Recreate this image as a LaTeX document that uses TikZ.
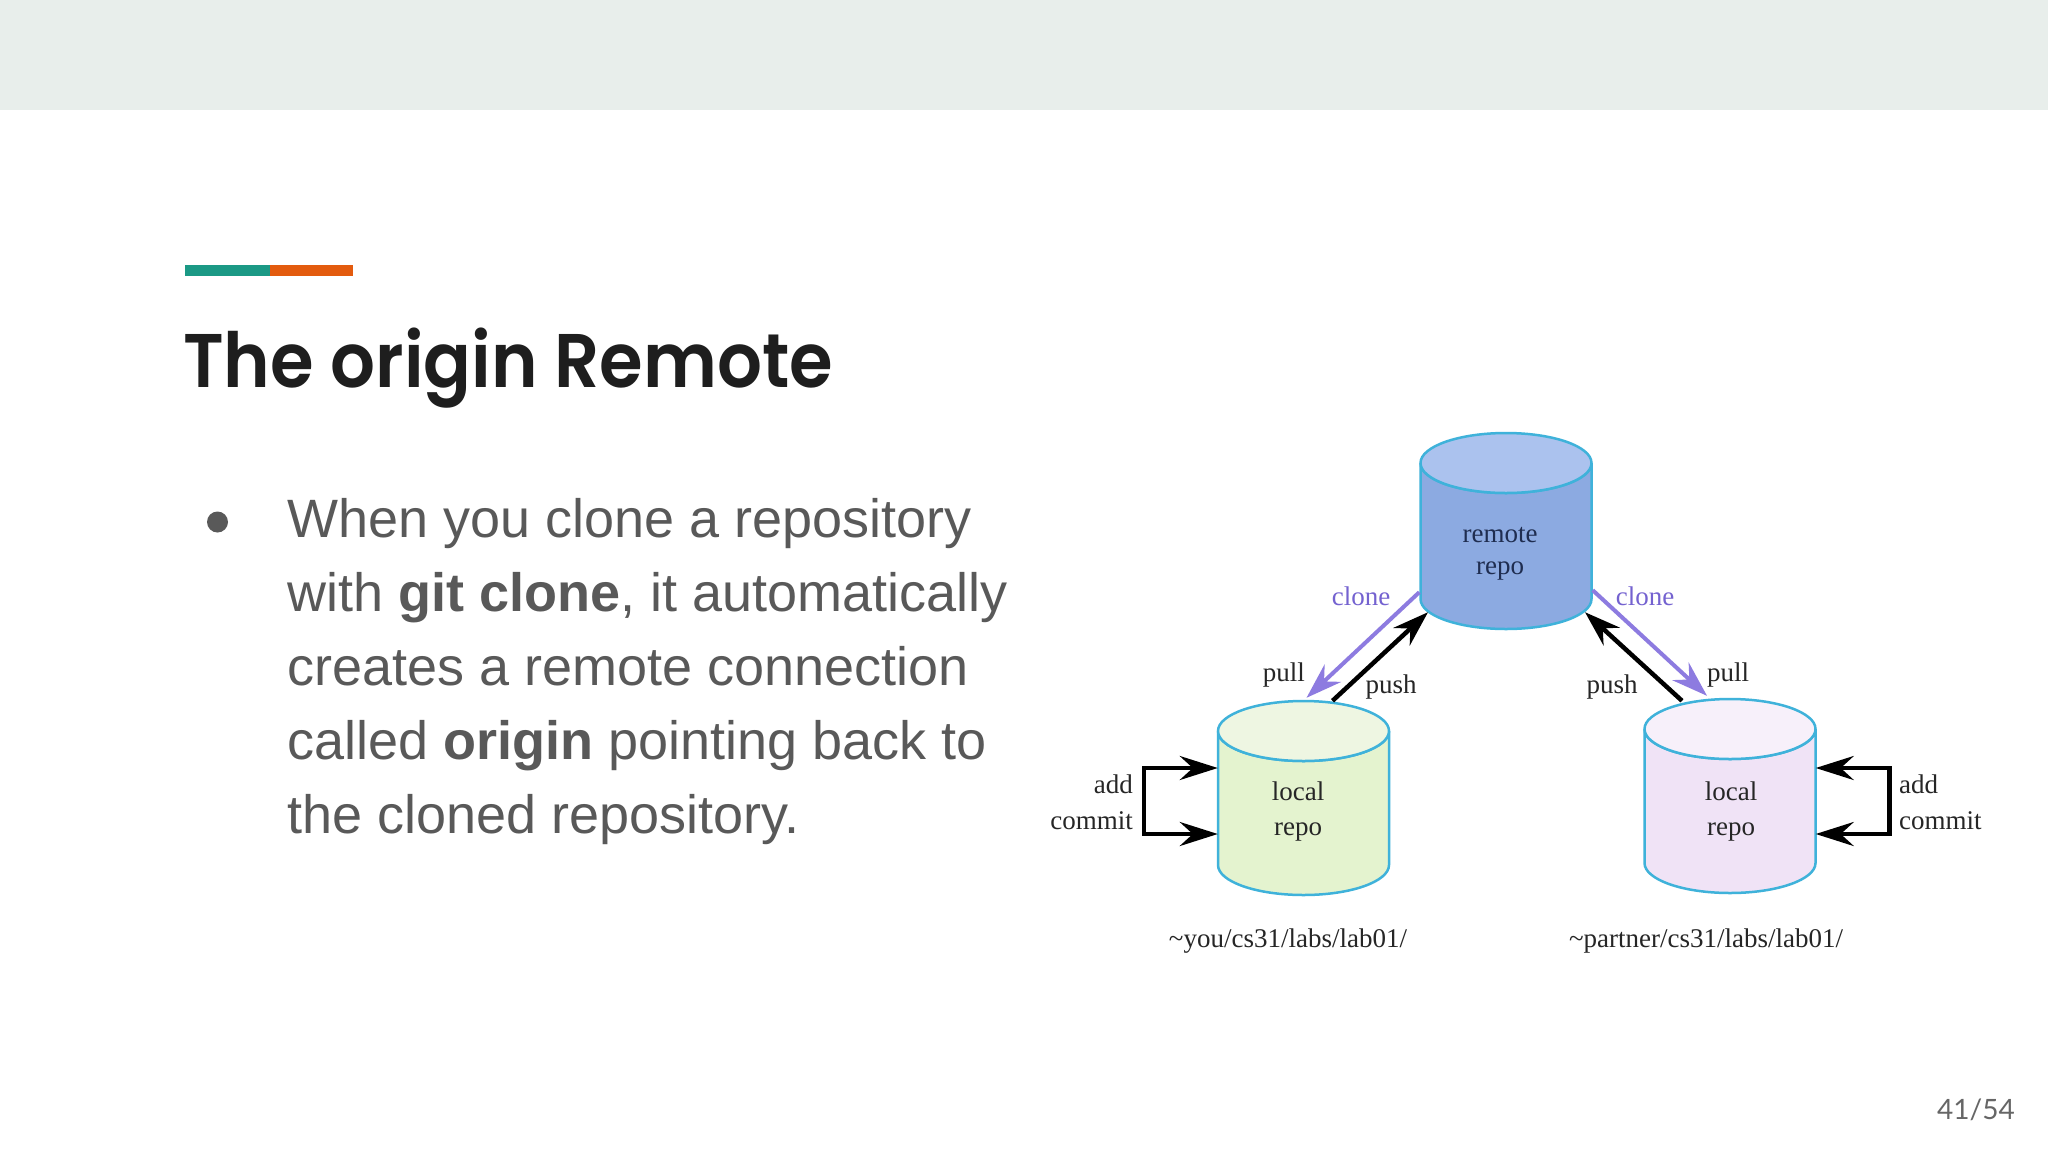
\documentclass[tikz,border=0pt]{standalone}
\usepackage{fontspec}
\usepackage{graphicx}
\usetikzlibrary{arrows.meta,calc}
\newfontfamily\titlefont{Poppins}[UprightFont=* SemiBold]
\newfontfamily\bodyfont{Liberation Sans}
\newfontfamily\dfont{Liberation Serif}
\newfontfamily\numfont{Lato}
\definecolor{banner}{HTML}{E8EEEB}
\definecolor{teal}{HTML}{1B9985}
\definecolor{accorange}{HTML}{E35B0E}
\definecolor{bodygray}{HTML}{595959}
\definecolor{titlecol}{HTML}{1E1E1E}
\definecolor{numgray}{HTML}{666666}
\definecolor{cylstroke}{HTML}{3FB2DA}
\definecolor{remtop}{HTML}{ABC2EE}
\definecolor{remA}{HTML}{A0B9EA}
\definecolor{remB}{HTML}{8CAAE1}
\definecolor{greenbody}{HTML}{E4F3CF}
\definecolor{greentop}{HTML}{EEF6E2}
\definecolor{pinkbody}{HTML}{F0E3F6}
\definecolor{pinktop}{HTML}{F7F0FA}
\definecolor{clonetext}{HTML}{7462D0}
\definecolor{cloneline}{HTML}{8D7BE0}
\definecolor{dtext}{HTML}{262626}
\definecolor{remtext}{HTML}{1F2D50}
\newcommand\drawcyl[5]{%
  \path[fill=#4, draw=cylstroke, line width=2.5pt]
    (#1-85.5,#2+30) -- (#1-85.5,#3-30)
    arc[start angle=180, end angle=0, x radius=85.5, y radius=30]
    -- (#1+85.5,#2+30)
    arc[start angle=0, end angle=180, x radius=85.5, y radius=30] -- cycle;
  \draw[fill=#5, draw=cylstroke, line width=2.5pt] (#1,#2+30) ellipse[x radius=85.5, y radius=30];}
\begin{document}
\begin{tikzpicture}[x=1pt, y=-1pt,
  cylnode/.style={minimum width=171pt, minimum height=196pt, inner sep=0pt, draw=none},
  dlbl/.style={font=\dfont\fontsize{27}{30}\selectfont, text=dtext, inner sep=0pt},
  clonelbl/.style={dlbl, text=clonetext},
  bodyline/.style={font=\bodyfont\fontsize{54}{74}\selectfont, text=bodygray, inner sep=0pt, anchor=base west},
  pusharrow/.style={draw=black, line width=4.5pt, -{Stealth[length=36pt, width=24pt, inset=12pt]}},
  pullarrow/.style={draw=cloneline, line width=4pt, -{Stealth[length=36pt, width=24pt, inset=12pt]}},
  acarrow/.style={draw=black, line width=4.5pt, {Stealth[length=38pt, width=24pt, inset=13pt]}-{Stealth[length=38pt, width=24pt, inset=13pt]}}]
\useasboundingbox (0,0) rectangle (2048,1152);
\fill[white] (0,0) rectangle (2048,1152);
% banner
\fill[banner] (0,0) rectangle (2048,110);
% accent bar
\fill[teal] (185,265) rectangle (270,276);
\fill[accorange] (270,265) rectangle (353,276);
% title
\node[anchor=base west, inner sep=0pt, text=titlecol, font=\titlefont\fontsize{76}{86}\selectfont] (title) at (183,387) {\scalebox{0.928}[1]{The origin Remote}};
% bullet text
\fill[bodygray] (217.5,522) circle[radius=10.5];
\node[bodyline] (l1) at (287,537) {When you clone a repository};
\node[bodyline] (l2) at (287,611) {with \textbf{git clone}, it automatically};
\node[bodyline] (l3) at (287,685) {creates a remote connection};
\node[bodyline] (l4) at (287,759) {called \textbf{origin} pointing back to};
\node[bodyline] (l5) at (287,833) {the cloned repository.};
% page number
\node[anchor=base east, inner sep=0pt, text=numgray, font=\numfont\fontsize{28}{32}\selectfont] (pnum) at (2015,1119) {41/54};
% cylinders
\drawcyl{1506}{433}{629}{remB}{remtop}
\drawcyl{1303.5}{701}{895}{greenbody}{greentop}
\drawcyl{1730}{699}{893}{pinkbody}{pinktop}
\node[cylnode] (rem) at (1506,531) {};
\node[cylnode] (locL) at (1303.5,798) {};
\node[cylnode] (locR) at (1730,796) {};
% cylinder texts
\node[dlbl, text=remtext, anchor=base] (remT1) at (1500,542) {remote};
\node[dlbl, text=remtext, anchor=base] (remT2) at (1500,574) {repo};
\node[dlbl, anchor=base] (locLT1) at (1298,800) {local};
\node[dlbl, anchor=base] (locLT2) at (1298,835) {repo};
\node[dlbl, anchor=base] (locRT1) at (1731,800) {local};
\node[dlbl, anchor=base] (locRT2) at (1731,835) {repo};
% connectors
\draw[pullarrow] ($(rem.south west)+(-1,-37)$) -- ($(locL.north)+(3,-2)$);
\draw[pusharrow] ($(locL.north)+(29,1)$) -- ($(rem.south)+(-78,-17)$);
\draw[pusharrow] ($(locR.north)+(-48,3)$) -- ($(rem.south)+(79,-17)$);
\draw[pullarrow] ($(rem.south east)+(1,-39)$) -- ($(locR.north)+(-23,-2)$);
\draw[acarrow] ($(locL.west)+(0,-30)$) -- ++(-74,0) |- ($(locL.west)+(0,36)$);
\draw[acarrow] ($(locR.east)+(0,-28)$) -- ++(74,0) |- ($(locR.east)+(0,38)$);
% labels
\node[clonelbl, anchor=base] (cloneL) at (1361,605) {clone};
\node[clonelbl, anchor=base] (cloneR) at (1645,605) {clone};
\node[dlbl, anchor=base east] (pullL) at (1305,681) {pull};
\node[dlbl, anchor=base] (pushL) at (1391,693) {push};
\node[dlbl, anchor=base] (pushR) at (1612,693) {push};
\node[dlbl, anchor=base west] (pullR) at (1707,681) {pull};
\node[dlbl, anchor=base east] (addL) at (1133,793) {add};
\node[dlbl, anchor=base east] (commitL) at (1133,829) {commit};
\node[dlbl, anchor=base west] (addR) at (1899,793) {add};
\node[dlbl, anchor=base west] (commitR) at (1899,829) {commit};
\node[dlbl, anchor=base] (pathL) at (1288,947) {\char`\~you/cs31/labs/lab01/};
\node[dlbl, anchor=base] (pathR) at (1706,947) {\char`\~partner/cs31/labs/lab01/};
\end{tikzpicture}
\end{document}
